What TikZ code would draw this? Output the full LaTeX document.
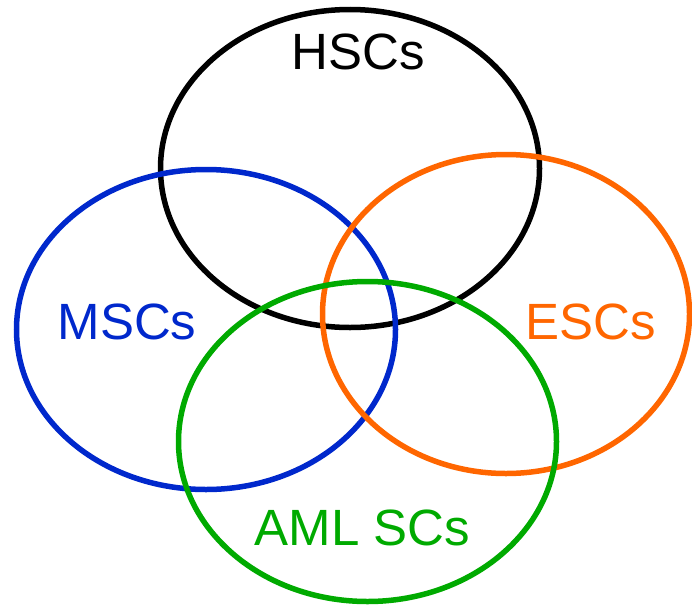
\documentclass[tikz,border=0pt]{standalone}
\usepackage{fontspec}
\setmainfont{Liberation Sans}
\definecolor{hblue}{RGB}{0,40,204}
\definecolor{horange}{RGB}{255,102,0}
\definecolor{hgreen}{RGB}{0,170,0}
\tikzset{
  ring/.style={line width=5.5pt},
  lbl/.style={inner sep=0pt, font=\fontsize{51}{51}\selectfont}
}
\begin{document}
\begin{tikzpicture}[x=1pt,y=-1pt]
\useasboundingbox (0,0) rectangle (692,605);
\draw[ring,black] (350,168.5) ellipse [x radius=189.5, y radius=159];
\draw[ring,hblue] (206,329.5) ellipse [x radius=189.5, y radius=160];
\draw[ring,horange] (506,314) ellipse [x radius=183.5, y radius=159.5];
\draw[ring,hgreen] (367.5,441.5) ellipse [x radius=189, y radius=160];
\node[lbl,text=black] (hsc) at (358,51.5) {HSCs};
\node[lbl,text=hblue] (msc) at (127,321.5) {MSCs};
\node[lbl,text=horange] (esc) at (591,321.5) {ESCs};
\node[lbl,text=hgreen] (aml) at (362.5,527.5) {AML SCs};
\end{tikzpicture}
\end{document}
